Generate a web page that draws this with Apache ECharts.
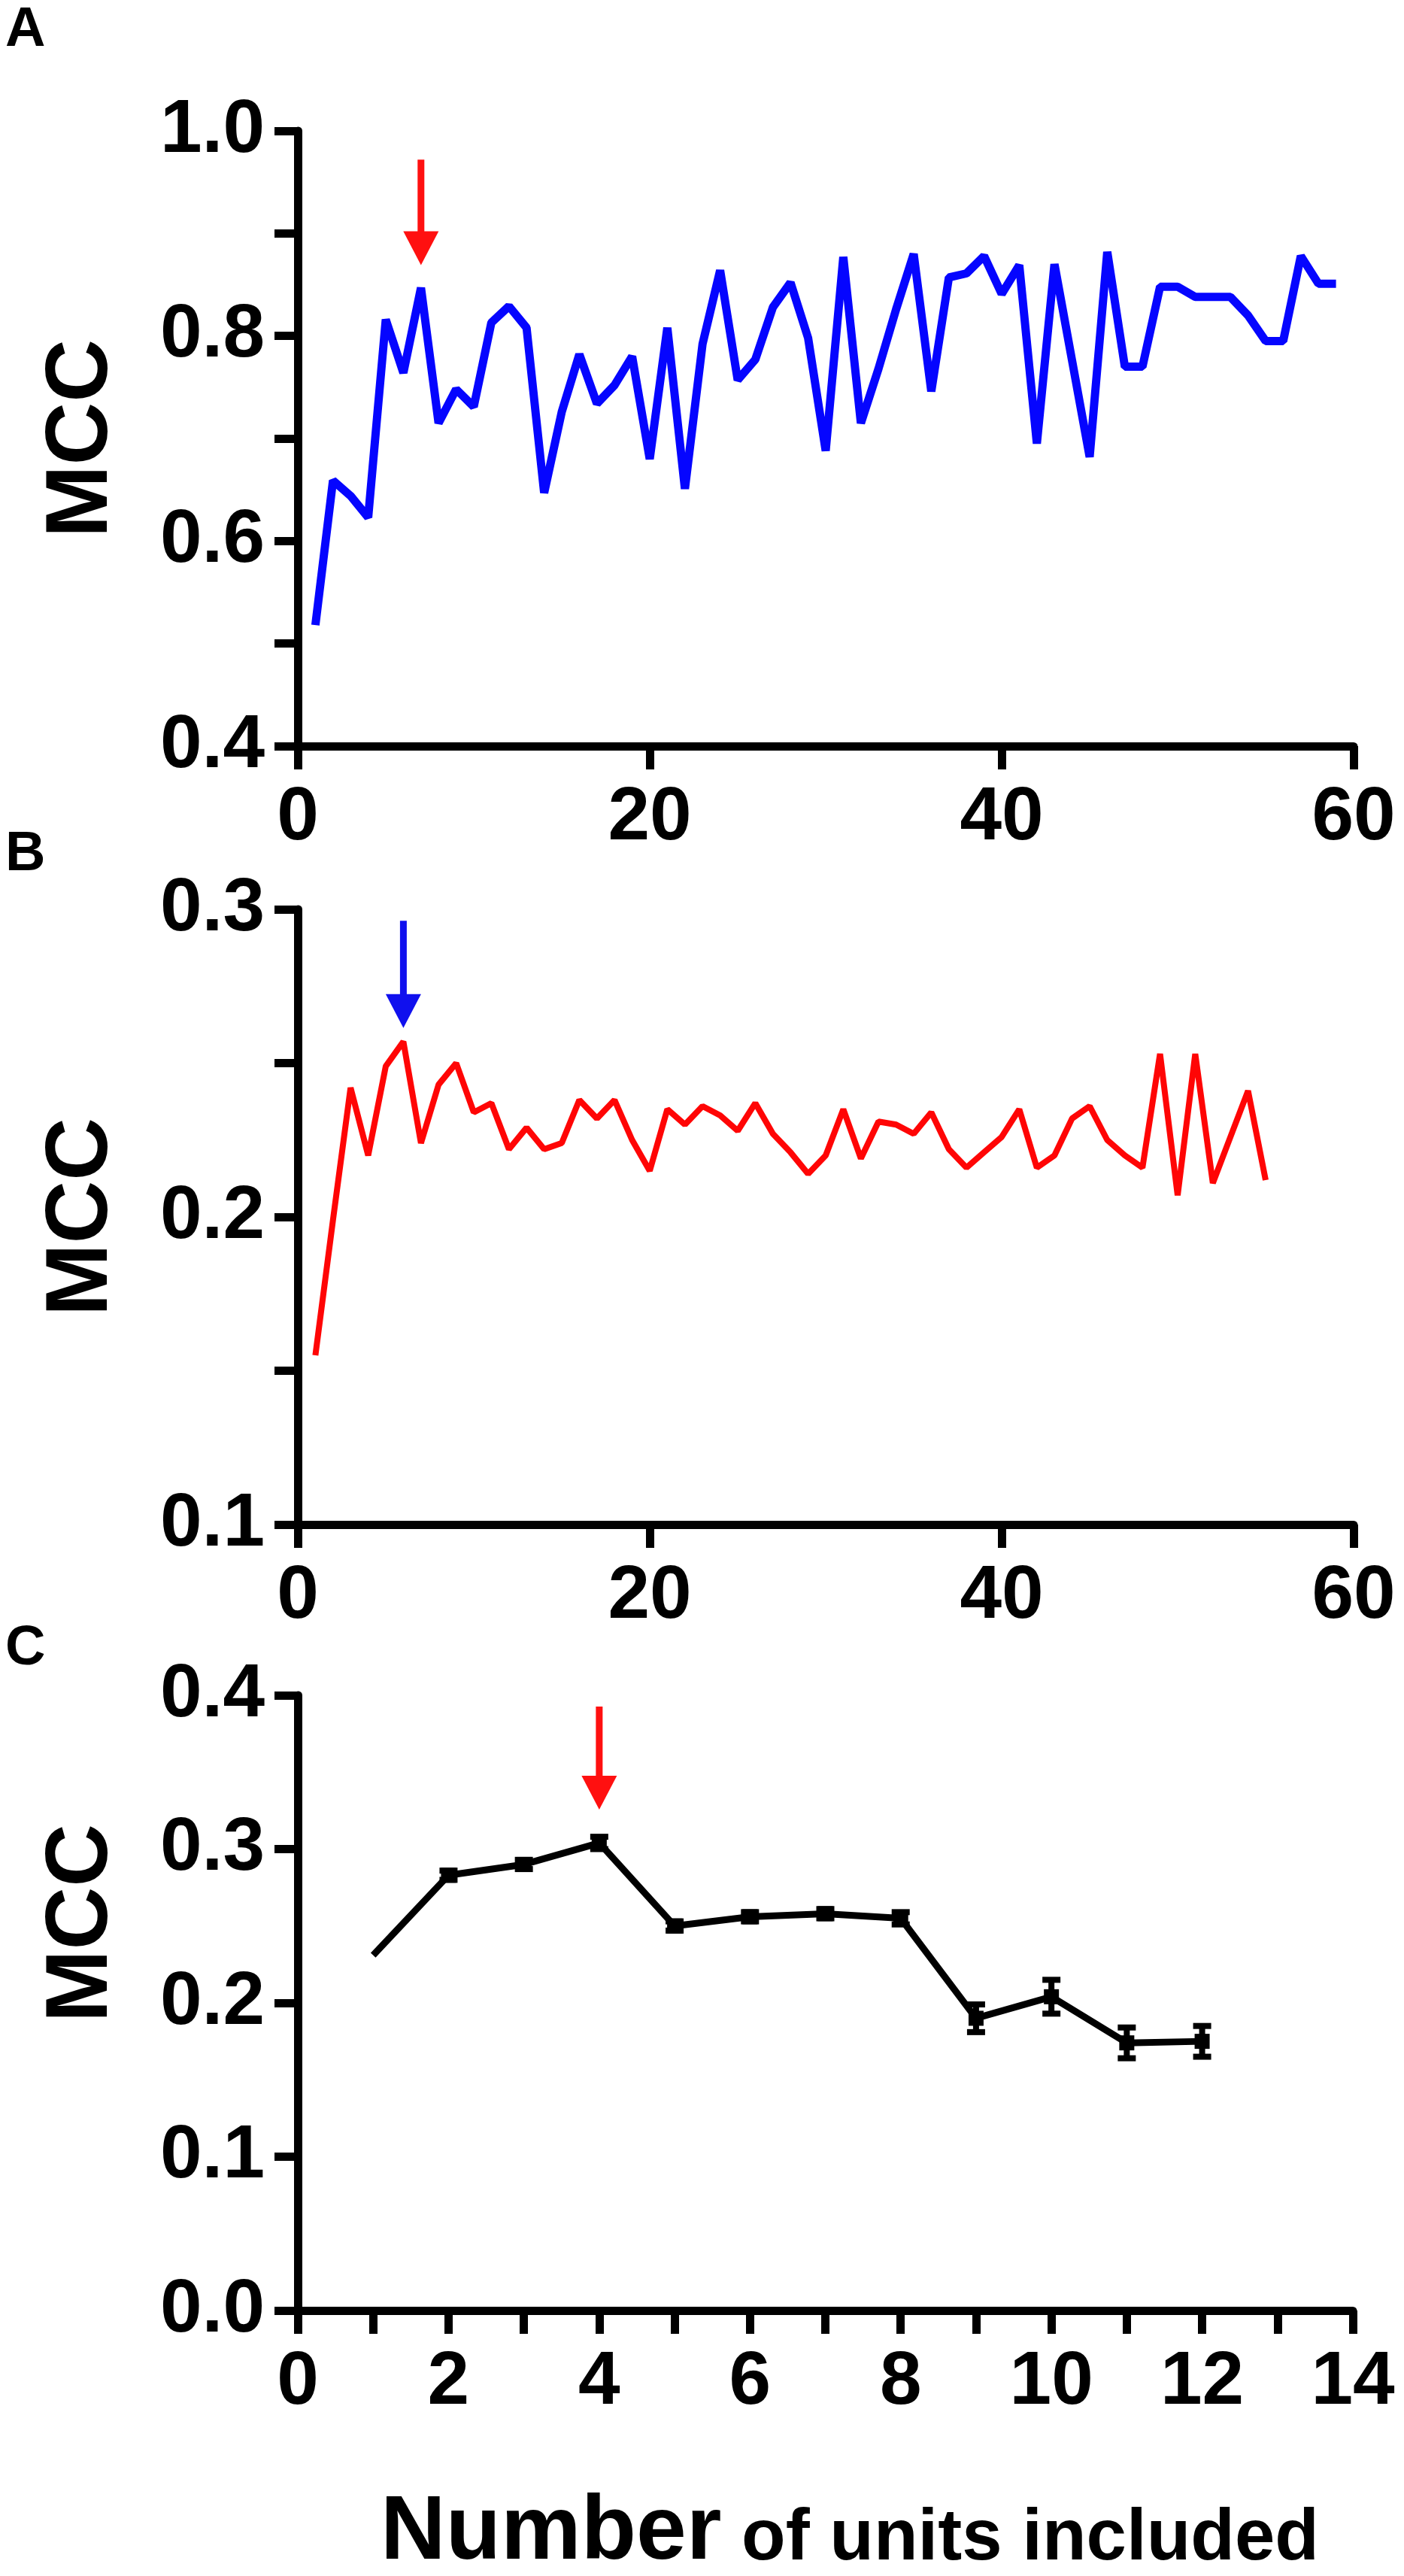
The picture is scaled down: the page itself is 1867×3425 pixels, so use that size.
<!DOCTYPE html>
<html>
<head>
<meta charset="utf-8">
<script src="https://cdn.jsdelivr.net/npm/echarts@6/dist/echarts.min.js"></script>
<style>
html,body{margin:0;padding:0;background:#fff;}
#chart{width:1867px;height:3425px;}
</style>
</head>
<body>
<div id="chart"></div>
<script>
// ---------- DATA ----------
const unitsA = [1,2,3,4,5,6,7,8,9,10,11,12,13,14,15,16,17,18,19,20,21,22,23,24,25,26,27,28,29,30,31,32,33,34,35,36,37,38,39,40,41,42,43,44,45,46,47,48,49,50,51,52,53,54,55,56,57,58,59];
const mccA = [0.518,0.659,0.644,0.623,0.816,0.764,0.847,0.715,0.748,0.731,0.813,0.829,0.808,0.647,0.726,0.782,0.734,0.752,0.780,0.680,
              0.808,0.651,0.792,0.864,0.757,0.777,0.828,0.852,0.798,0.688,0.877,0.715,0.768,0.826,0.880,0.746,0.857,0.861,0.878,0.841,
              0.869,0.695,0.870,0.776,0.682,0.882,0.770,0.770,0.848,0.848,0.838,0.838,0.838,0.820,0.795,0.795,0.878,0.851,0.851];

const unitsB = [1,2,3,4,5,6,7,8,9,10,11,12,13,14,15,16,17,18,19,20,21,22,23,24,25,26,27,28,29,30,31,32,33,34,35,36,37,38,39,40,41,42,43,44,45,46,47,48,49,50,51,52,53,54,55];
const mccB = [0.155,0.199,0.242,0.220,0.249,0.257,0.224,0.243,0.250,0.234,0.237,0.222,0.229,0.222,0.224,0.238,0.232,0.238,0.225,0.215,
              0.235,0.230,0.236,0.233,0.228,0.237,0.227,0.221,0.214,0.220,0.235,0.219,0.231,0.230,0.227,0.234,0.222,0.216,0.221,0.226,
              0.235,0.216,0.220,0.232,0.236,0.225,0.220,0.216,0.253,0.207,0.253,0.211,0.226,0.241,0.212];

const unitsC = [1,2,3,4,5,6,7,8,9,10,11,12];
const mccC = [0.231,0.283,0.290,0.304,0.250,0.256,0.258,0.255,0.190,0.204,0.174,0.175];
const errC = [0,0.003,0.003,0.004,0.003,0.003,0.003,0.004,0.009,0.011,0.010,0.010];

// arrows: [x, top value, tip value]
const arrowA = [[7, 0.972, 0.869]];
const arrowB = [[6, 0.2963, 0.2614]];
const arrowC = [[4, 0.3927, 0.3257]];

const ticksA = {min:0.4, max:1.0, interval:0.2};
const ticksB = {min:0.1, max:0.3, interval:0.1};
const ticksC = {min:0.0, max:0.4, interval:0.1};

// ---------- STYLE ----------
const FONT = "'Liberation Sans', Arial, Helvetica, sans-serif";
const AXW = 11, TICKLEN = 31;
const chart = echarts.init(document.getElementById('chart'), null, {renderer:'canvas'});

function xAxisCfg(idx, min, max, interval, minor){
  return {
    type:'value', gridIndex:idx, min:min, max:max, interval:interval,
    axisLine:{show:true, onZero:false, lineStyle:{color:'#000', width:AXW}},
    axisTick:{show:true, inside:false, length:TICKLEN, lineStyle:{color:'#000', width:AXW}},
    minorTick: minor ? {show:true, splitNumber:minor, length:TICKLEN, lineStyle:{color:'#000', width:AXW}} : {show:false},
    splitLine:{show:false}, minorSplitLine:{show:false},
    axisLabel:{color:'#000', fontSize:100, fontWeight:'bold', fontFamily:FONT, margin:46, showMinLabel:true, showMaxLabel:true}
  };
}
function yAxisCfg(idx, t, minor, name){
  return {
    type:'value', gridIndex:idx, min:t.min, max:t.max, interval:t.interval,
    axisLine:{show:true, onZero:false, lineStyle:{color:'#000', width:AXW}},
    axisTick:{show:true, inside:false, length:TICKLEN, lineStyle:{color:'#000', width:AXW}},
    minorTick: minor ? {show:true, splitNumber:minor, length:TICKLEN, lineStyle:{color:'#000', width:AXW}} : {show:false},
    splitLine:{show:false}, minorSplitLine:{show:false},
    axisLabel:{color:'#000', fontSize:100, fontWeight:'bold', fontFamily:FONT, margin:44,
               formatter: v => v.toFixed(1), showMinLabel:true, showMaxLabel:true},
    name: name || '', nameLocation:'middle', nameGap:228, nameRotate:90,
    nameTextStyle:{color:'#000', fontSize:116, fontWeight:'bold', fontFamily:FONT}
  };
}

function arrowRenderer(color){
  return function(params, api){
    const x = api.value(0), yTop = api.value(1), yTip = api.value(2);
    const top = api.coord([x, yTop]);
    const tip = api.coord([x, yTip]);
    const headH = 45, headW = 47;
    const baseY = tip[1] - headH;
    return {type:'group', children:[
      {type:'line', shape:{x1:top[0], y1:top[1], x2:top[0], y2:baseY + 4}, style:{stroke:color, lineWidth:9}},
      {type:'polygon', shape:{points:[[tip[0]-headW/2, baseY],[tip[0]+headW/2, baseY],[tip[0], tip[1]]]}, style:{fill:color}}
    ]};
  };
}

function errRenderer(params, api){
  const x = api.value(0), y = api.value(1), e = api.value(2);
  if (!e) return null;
  const hi = api.coord([x, y + e]);
  const lo = api.coord([x, y - e]);
  const w = 12;
  return {type:'group', children:[
    {type:'line', shape:{x1:hi[0], y1:hi[1], x2:lo[0], y2:lo[1]}, style:{stroke:'#000', lineWidth:8}},
    {type:'line', shape:{x1:hi[0]-w, y1:hi[1], x2:hi[0]+w, y2:hi[1]}, style:{stroke:'#000', lineWidth:8}},
    {type:'line', shape:{x1:lo[0]-w, y1:lo[1], x2:lo[0]+w, y2:lo[1]}, style:{stroke:'#000', lineWidth:8}}
  ]};
}

function txt(x, y, text, size, opts){
  return Object.assign({
    type:'text', x:x, y:y, silent:true,
    style:{text:text, font:'bold ' + size + 'px ' + FONT, fill:'#000',
           align:'left', verticalAlign:'top', textAlign:'left', textVerticalAlign:'top'}
  }, opts || {});
}

const option = {
  animation:false,
  backgroundColor:'#fff',
  grid:[
    {left:396, top:174, width:1404, height:818},
    {left:396, top:1209, width:1404, height:818},
    {left:396, top:2254, width:1403, height:818}
  ],
  xAxis:[
    xAxisCfg(0, 0, 60, 20, 0),
    xAxisCfg(1, 0, 60, 20, 0),
    xAxisCfg(2, 0, 14, 2, 2)
  ],
  yAxis:[
    yAxisCfg(0, ticksA, 2, 'MCC'),
    yAxisCfg(1, ticksB, 2, 'MCC'),
    yAxisCfg(2, ticksC, 0, '')
  ],
  series:[
    {type:'line', xAxisIndex:0, yAxisIndex:0, showSymbol:false, symbol:'none',
     lineStyle:{color:'#0505ff', width:11}, itemStyle:{color:'#0505ff'},
     data: unitsA.map((x,i)=>[x, mccA[i]]), z:3},
    {type:'line', xAxisIndex:1, yAxisIndex:1, showSymbol:false, symbol:'none',
     lineStyle:{color:'#ff0505', width:8}, itemStyle:{color:'#ff0505'},
     data: unitsB.map((x,i)=>[x, mccB[i]]), z:3},
    {type:'line', xAxisIndex:2, yAxisIndex:2, showSymbol:true, symbol:'rect', symbolSize:20,
     lineStyle:{color:'#000', width:9}, itemStyle:{color:'#000'},
     data: unitsC.map((x,i)=> i === 0 ? {value:[x, mccC[i]], symbol:'none'} : [x, mccC[i]]), z:3},
    {type:'custom', xAxisIndex:2, yAxisIndex:2, renderItem:errRenderer,
     data: unitsC.map((x,i)=>[x, mccC[i], errC[i]]), z:4, silent:true},
    {type:'custom', xAxisIndex:0, yAxisIndex:0, renderItem:arrowRenderer('#ff1010'), data:arrowA, z:5, silent:true},
    {type:'custom', xAxisIndex:1, yAxisIndex:1, renderItem:arrowRenderer('#1010ee'), data:arrowB, z:5, silent:true},
    {type:'custom', xAxisIndex:2, yAxisIndex:2, renderItem:arrowRenderer('#ff1010'), data:arrowC, z:5, silent:true}
  ],
  graphic:[
    txt(7, 4, 'A', 74),
    txt(7, 1100, 'B', 74),
    txt(7, 2156, 'C', 74),
    {type:'text', x:110, y:2557, rotation:Math.PI/2, silent:true,
     style:{text:'MCC', font:'bold 116px ' + FONT, fill:'#000',
            align:'center', verticalAlign:'middle', textAlign:'center', textVerticalAlign:'middle'}},
    {type:'text', x:506, y:3369, silent:true,
     style:{text:'Number', font:'bold 120px ' + FONT, fill:'#000',
            align:'left', verticalAlign:'middle', textAlign:'left', textVerticalAlign:'middle'}},
    {type:'text', x:986, y:3377, silent:true,
     style:{text:'of units included', font:'bold 96px ' + FONT, fill:'#000',
            align:'left', verticalAlign:'middle', textAlign:'left', textVerticalAlign:'middle'}}
  ]
};
chart.setOption(option);
</script>
</body>
</html>
